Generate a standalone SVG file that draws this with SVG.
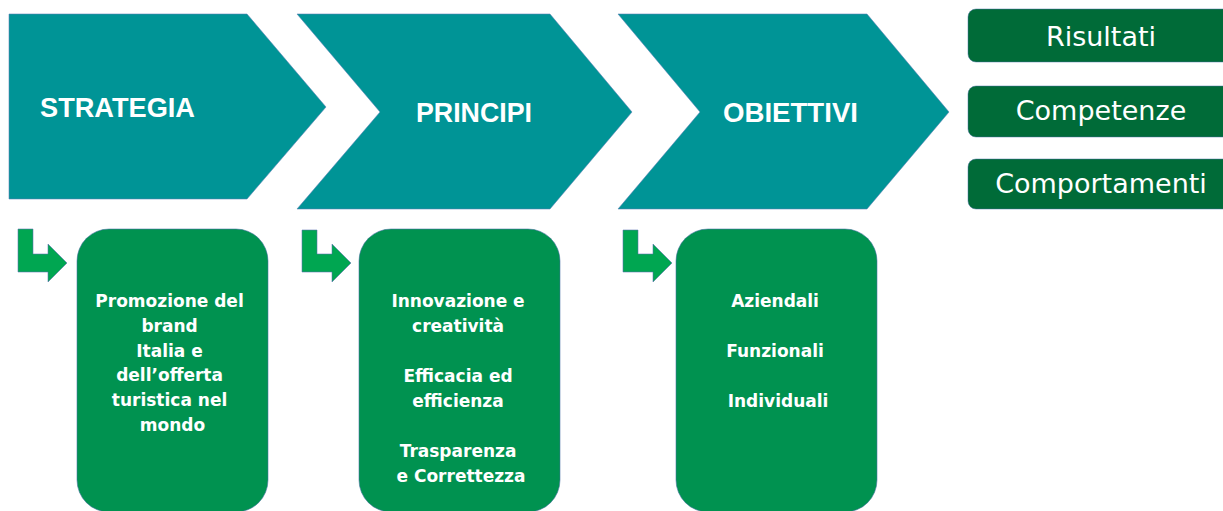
<svg xmlns="http://www.w3.org/2000/svg" width="1223" height="511" viewBox="0 0 1223 511">
  <style>
    .chev { fill: #009496; stroke: #5b7fb5; stroke-width: 0.8; stroke-opacity: 0.7; }
    .head { fill: #ffffff; font-family: "Liberation Sans", Arial, sans-serif; font-weight: bold; font-size: 28px; }
    .card { fill: #009250; stroke: #4a6fa5; stroke-width: 0.8; stroke-opacity: 0.7; }
    .card-text { fill: #ffffff; font-family: "DejaVu Sans", Verdana, sans-serif; font-weight: bold; font-size: 17px; text-anchor: middle; }
    .tag { fill: #006b38; stroke: #4a6fa5; stroke-width: 0.8; stroke-opacity: 0.6; }
    .tag-text { fill: #ffffff; font-family: "DejaVu Sans", Verdana, sans-serif; font-size: 27px; text-anchor: middle; }
    .bend { fill: #00a651; stroke: #5b6fb0; stroke-width: 0.8; stroke-opacity: 0.7; }
  </style>

  <!-- Process chevrons -->
  <g id="strategia">
    <polygon class="chev" points="9,14 247,14 326,107 247,199 9,199"/>
    <text class="head" x="40" y="117" font-size="30" textLength="155" lengthAdjust="spacingAndGlyphs">STRATEGIA</text>
  </g>
  <g id="principi">
    <polygon class="chev" points="297,14 550,14 632,112 550,209 297,209 380,112"/>
    <text class="head" x="416" y="122" textLength="116" lengthAdjust="spacingAndGlyphs">PRINCIPI</text>
  </g>
  <g id="obiettivi">
    <polygon class="chev" points="618,14 867,14 949,112 867,209 618,209 700,112"/>
    <text class="head" x="723" y="122" textLength="135" lengthAdjust="spacingAndGlyphs">OBIETTIVI</text>
  </g>

  <!-- Evaluation dimensions -->
  <g id="risultati">
    <rect class="tag" x="968" y="9" width="266" height="53" rx="8"/>
    <text class="tag-text" x="1101" y="46">Risultati</text>
  </g>
  <g id="competenze">
    <rect class="tag" x="968" y="86" width="266" height="51" rx="8"/>
    <text class="tag-text" x="1101" y="120">Competenze</text>
  </g>
  <g id="comportamenti">
    <rect class="tag" x="968" y="159" width="266" height="50" rx="8"/>
    <text class="tag-text" x="1101" y="193">Comportamenti</text>
  </g>

  <!-- Bent arrows leading into the detail cards -->
  <g id="connectors">
    <polygon class="bend" points="18,229 33,229 33,254 48,254 48,244 67,263 48,282 48,272 18,272"/>
    <polygon class="bend" points="302,230 317,230 317,254 332,254 332,244 351,263 332,282 332,272 302,272"/>
    <polygon class="bend" points="623,230 638,230 638,254 653,254 653,244 672,263 653,282 653,272 623,272"/>
  </g>

  <!-- Detail cards -->
  <g id="card-strategia">
    <rect class="card" x="77" y="229" width="191" height="283" rx="32"/>
    <text class="card-text">
      <tspan x="172.5" y="307">Promozione del</tspan>
      <tspan x="172.5" y="332">brand</tspan>
      <tspan x="172.5" y="357">Italia e</tspan>
      <tspan x="172.5" y="381">dell’offerta</tspan>
      <tspan x="172.5" y="406">turistica nel</tspan>
      <tspan x="172.5" y="431">mondo</tspan>
    </text>
  </g>
  <g id="card-principi">
    <rect class="card" x="359" y="229" width="201" height="283" rx="32"/>
    <text class="card-text">
      <tspan x="461" y="307">Innovazione e</tspan>
      <tspan x="461" y="332">creatività</tspan>
      <tspan x="461" y="382">Efficacia ed</tspan>
      <tspan x="461" y="407">efficienza</tspan>
      <tspan x="461" y="457">Trasparenza</tspan>
      <tspan x="461" y="482">e Correttezza</tspan>
    </text>
  </g>
  <g id="card-obiettivi">
    <rect class="card" x="676" y="229" width="201" height="283" rx="32"/>
    <text class="card-text">
      <tspan x="778" y="307">Aziendali</tspan>
      <tspan x="778" y="357">Funzionali</tspan>
      <tspan x="778" y="407">Individuali</tspan>
    </text>
  </g>
</svg>
